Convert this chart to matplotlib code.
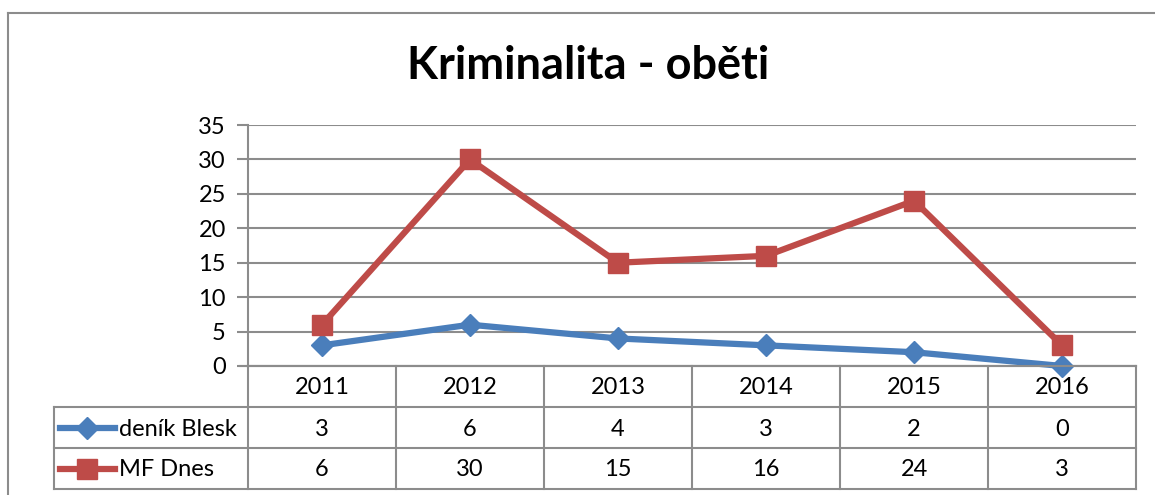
import matplotlib
matplotlib.use("Agg")
import matplotlib.pyplot as plt
import matplotlib.transforms as mtransforms
from matplotlib.lines import Line2D

plt.rcParams['font.family'] = ['Lato', 'DejaVu Sans']

# data
years = ['2011', '2012', '2013', '2014', '2015', '2016']
blesk = [3, 6, 4, 3, 2, 0]
mfdnes = [6, 30, 15, 16, 24, 3]
series_names = ['deník Blesk', 'MF Dnes']
title = 'Kriminalita - oběti'

W, H = 1155, 495
blue = '#4a7ebb'
red = '#be4b48'
grid_c = '#8c8c8c'
fs = 17

fig = plt.figure(figsize=(W / 100, H / 100), dpi=100)

def fy(py):
    return 1 - py / H

def fx(px):
    return px / W

# plot area in pixels
left, right, top, bottom = 248, 1136, 125, 366
ax = fig.add_axes([fx(left), fy(bottom), fx(right) - fx(left), fy(top) - fy(bottom)])

x = list(range(len(years)))
ax.plot(x, blesk, color=blue, lw=4.5, marker='D', ms=11, mec=blue, mfc=blue, zorder=3, clip_on=False)
ax.plot(x, mfdnes, color=red, lw=4.5, marker='s', ms=14, mec=red, mfc=red, zorder=3, clip_on=False)

ax.set_xlim(-0.5, len(years) - 0.5)
ax.set_ylim(0, 35)
ax.set_yticks(range(0, 36, 5))
ax.yaxis.grid(True, color=grid_c, lw=1.5)
ax.set_axisbelow(True)
ax.set_xticks([])
for s in ['top', 'right']:
    ax.spines[s].set_visible(False)
ax.spines['left'].set_color(grid_c)
ax.spines['left'].set_linewidth(1.5)
ax.spines['bottom'].set_color(grid_c)
ax.spines['bottom'].set_linewidth(1.5)
ax.tick_params(axis='y', length=8, width=1.5, color=grid_c, labelsize=fs, pad=8)

fig.text(0.509, fy(66), title, ha='center', va='center', fontsize=32.5, fontweight='bold')

# data table under the axis
trans = mtransforms.blended_transform_factory(ax.transData, fig.transFigure)
rows_y = [366, 407, 448, 489]
tbl_left = 54

def hline(px0, px1, py):
    fig.add_artist(Line2D([fx(px0), fx(px1)], [fy(py), fy(py)], color=grid_c, lw=1.5))

def vline(px, py0, py1):
    fig.add_artist(Line2D([fx(px), fx(px)], [fy(py0), fy(py1)], color=grid_c, lw=1.5))

hline(left - 8, right, rows_y[0])
for py in rows_y[1:]:
    hline(tbl_left, right, py)
vline(tbl_left, rows_y[1], rows_y[3])
vline(left, rows_y[0], rows_y[3])
for i in range(1, len(years)):
    fig.add_artist(Line2D([i - 0.5, i - 0.5], [fy(rows_y[0]), fy(rows_y[3])], color=grid_c, lw=1.5, transform=trans))
vline(right, rows_y[0], rows_y[3])

for i, yr in enumerate(years):
    fig.text(i, fy(388), yr, transform=trans, ha='center', va='center', fontsize=fs)
    fig.text(i, fy(429), str(blesk[i]), transform=trans, ha='center', va='center', fontsize=fs)
    fig.text(i, fy(470), str(mfdnes[i]), transform=trans, ha='center', va='center', fontsize=fs)

# legend keys in the table
for name, col, mk, ms, py in [(series_names[0], blue, 'D', 11, 428), (series_names[1], red, 's', 14, 469)]:
    fig.add_artist(Line2D([fx(60), fx(115)], [fy(py), fy(py)], color=col, lw=4.5))
    fig.add_artist(Line2D([fx(87)], [fy(py)], color=col, marker=mk, ms=ms, mfc=col, mec=col))
    fig.text(fx(119), fy(py + 1), name, ha='left', va='center', fontsize=fs)

# outer chart frame
fig.add_artist(Line2D([fx(8), fx(8)], [fy(13), 0], color=grid_c, lw=1.5))
fig.add_artist(Line2D([fx(8), 1], [fy(13), fy(13)], color=grid_c, lw=1.5))

fig.savefig('out.png', dpi=100)
